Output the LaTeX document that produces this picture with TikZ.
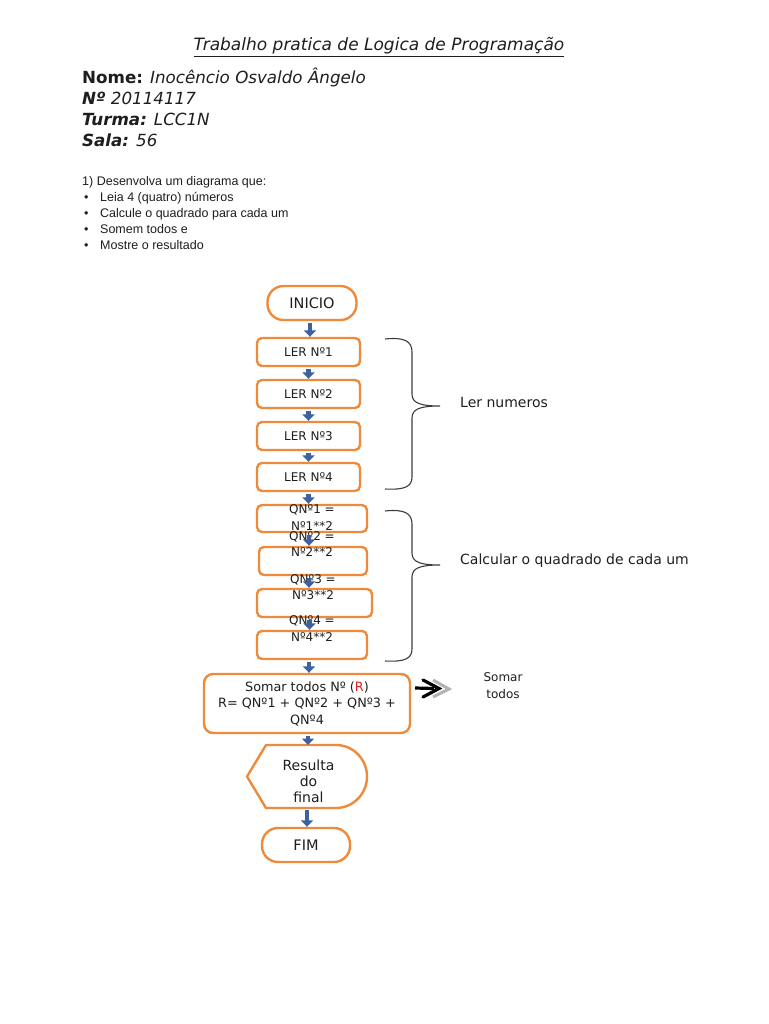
\documentclass[tikz,border=0pt]{standalone}
\usepackage{fontspec}
\setmainfont{DejaVu Sans}
\newfontfamily\arialf{Liberation Sans}
\usetikzlibrary{arrows.meta,shapes.misc}
\definecolor{boxorange}{RGB}{238,138,58}
\definecolor{arrblue}{RGB}{60,98,160}
\definecolor{bracegray}{RGB}{60,60,60}
\definecolor{rred}{RGB}{225,30,30}
\definecolor{txt}{RGB}{30,30,30}
\tikzset{
  fbox/.style={draw=boxorange, line width=2.4pt, rounded corners=5pt, inner sep=0pt, text=txt, font=\fontsize{12}{14}\selectfont},
  term/.style={draw=boxorange, line width=2.4pt, rounded corners=16pt, inner sep=0pt, text=txt, font=\fontsize{14.5}{16}\selectfont},
  blk/.style={draw=arrblue, line width=4.5pt, -{Triangle[width=12pt,length=6.5pt]}, shorten <=1.5pt},
  brace/.style={draw=bracegray, line width=1.1pt},
  hdr/.style={anchor=base west, inner sep=0pt, text=txt, font=\fontsize{16.7}{18}\selectfont},
  lst/.style={anchor=base west, inner sep=0pt, text=txt, font=\arialf\fontsize{12.5}{14}\selectfont},
  qtxt/.style={align=center, inner sep=0pt, text=txt, font=\fontsize{12}{16.5}\selectfont},
  side/.style={anchor=west, inner sep=0pt, text=txt, font=\fontsize{14}{16}\selectfont}
}
\begin{document}
\begin{tikzpicture}[x=1pt,y=-1pt]
\useasboundingbox (0,0) rectangle (768,1024);
\fill[white] (0,0) rectangle (768,1024);

% header
\node[anchor=base, inner sep=0pt, text=txt, font=\fontsize{17}{18}\selectfont\itshape] (title) at (379,51) {\underline{Trabalho pratica de Logica de Programação}};
\node[hdr] (nome) at (82,84) {\textbf{Nome:} \textit{Inocêncio Osvaldo Ângelo}};
\node[hdr] (num) at (82,105) {\textbf{\textit{Nº}} \textit{20114117}};
\node[hdr] (turma) at (82,126) {\textbf{\textit{Turma:}} \textit{LCC1N}};
\node[hdr] (sala) at (82,147) {\textbf{\textit{Sala:}} \textit{56}};

\node[lst] (q) at (82,185.5) {1) Desenvolva um diagrama que:};
\node[lst] (b1) at (84,201.5) {•};
\node[lst] (l1) at (100,201.5) {Leia 4 (quatro) números};
\node[lst] (b2) at (84,217.5) {•};
\node[lst] (l2) at (100,217.5) {Calcule o quadrado para cada um};
\node[lst] (b3) at (84,233.5) {•};
\node[lst] (l3) at (100,233.5) {Somem todos e};
\node[lst] (b4) at (84,249.5) {•};
\node[lst] (l4) at (100,249.5) {Mostre o resultado};

% flowchart
\node[term, minimum width=89pt, minimum height=34pt] (inicio) at (312,303) {INICIO};
\node[fbox, minimum width=103pt, minimum height=28pt] (ler1) at (308.5,352) {LER Nº1};
\node[fbox, minimum width=103pt, minimum height=28pt] (ler2) at (308.5,394) {LER Nº2};
\node[fbox, minimum width=103pt, minimum height=28pt] (ler3) at (308.5,436) {LER Nº3};
\node[fbox, minimum width=103pt, minimum height=28pt] (ler4) at (308.5,477) {LER Nº4};

\node[fbox, minimum width=110pt, minimum height=27pt] (q1) at (312,518.5) {};
\node[fbox, minimum width=108pt, minimum height=28pt] (q2) at (313,561) {};
\node[fbox, minimum width=115pt, minimum height=28pt] (q3) at (314.5,603) {};
\node[fbox, minimum width=110pt, minimum height=28pt] (q4) at (312,645) {};
\node[qtxt] (q1t) at (312,517.5) {QNº1 =\\Nº1**2};
\node[qtxt] (q2t) at (312,544) {QNº2 =\\Nº2**2};
\node[qtxt] (q3t) at (313,587) {QNº3 =\\Nº3**2};
\node[qtxt] (q4t) at (312,628.5) {QNº4 =\\Nº4**2};

\node[fbox, rounded corners=9pt, minimum width=206pt, minimum height=59pt, align=center, font=\fontsize{12.8}{16.5}\selectfont] (soma) at (307,703.5) {Somar todos Nº (\textcolor{rred}{R})\\R= QNº1 + QNº2 + QNº3 +\\QNº4};

\coordinate (rtop) at (307,745);
\draw[draw=boxorange, line width=2.4pt, line join=round] (247,776.5) -- (266,745) -- (336,745) arc[start angle=90, end angle=-90, x radius=31pt, y radius=31.5pt] -- (266,808) -- cycle;
\node[align=center, inner sep=0pt, text=txt, font=\fontsize{14}{15.8}\selectfont] (res) at (308.5,781.5) {Resulta\\do\\final};
\coordinate (rbot) at (307,808);

\node[term, minimum width=88pt, minimum height=34pt] (fim) at (306,845) {FIM};

% arrows
\draw[blk] (inicio.south) ++(-2,0) coordinate (a0) -- (a0 |- ler1.north);
\draw[blk] (ler1.south) -- (ler1.south |- ler2.north);
\draw[blk] (ler2.south) -- (ler2.south |- ler3.north);
\draw[blk] (ler3.south) -- (ler3.south |- ler4.north);
\draw[blk] (ler4.south) -- (ler4.south |- q1.north);
\draw[blk] ([xshift=-3pt]q1.south) coordinate (a5) -- (a5 |- q2.north);
\draw[blk] ([xshift=-4pt]q2.south) coordinate (a6) -- (a6 |- q3.north);
\draw[blk] ([xshift=-5pt]q3.south) coordinate (a7) -- (a7 |- q4.north);
\draw[blk] ([xshift=-3pt]q4.south) coordinate (a8) -- (a8 |- soma.north);
\draw[blk] ([xshift=1pt]soma.south) coordinate (a9) -- (a9 |- rtop);
\draw[blk] (rbot) -- (rbot |- fim.north);

% braces
\draw[brace] (385,339) .. controls (404,337) and (412,341) .. (412,352) -- (412,394) .. controls (412,403) and (420,406) .. (440,406) .. controls (420,406) and (412,409) .. (412,418) -- (412,477) .. controls (412,487) and (404,490) .. (385,489);
\draw[brace] (385,511) .. controls (404,509) and (412,513) .. (412,524) -- (412,553) .. controls (412,562) and (420,565) .. (440,565) .. controls (420,565) and (412,568) .. (412,577) -- (412,649) .. controls (412,659) and (404,662) .. (385,661);
\node[side] (lern) at (460,402) {Ler numeros};
\node[side] (calc) at (460,561) {Calcular o quadrado de cada um};

% somar arrow
\coordinate (sa0) at (415,688);
\draw[gray!60, line width=3pt] (433,680) -- (449,689) -- (433,697);
\draw[black, line width=3.2pt] (sa0) -- (434,688.5);
\draw[black, line width=3.2pt, line cap=round, line join=miter] (423,680) -- (439,688.5) -- (423,697);
\node[align=center, inner sep=0pt, text=txt, font=\fontsize{12}{17}\selectfont] (somt) at (503,686) {Somar\\todos};
\end{tikzpicture}
\end{document}
